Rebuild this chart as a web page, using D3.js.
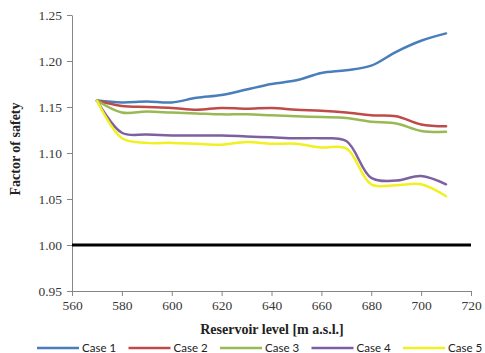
<!DOCTYPE html>
<html>
<head>
<meta charset="utf-8">
<script src="https://cdn.jsdelivr.net/npm/d3@7"></script>
<style>
  body { margin: 0; background: #fff; }
  svg { display: block; }
  .tick text { font-family: "Liberation Serif", serif; font-size: 13.5px; fill: #383838; }
  .axis path, .axis line { stroke: #868686; }
</style>
</head>
<body>
<div id="chart"></div>
<script>
// Reservoir levels (m a.s.l.)
const levels = [570, 580, 590, 600, 610, 620, 630, 640, 650, 660, 670, 680, 690, 700, 710];

// Factor of safety per case
const case1 = [1.157, 1.155, 1.156, 1.155, 1.160, 1.163, 1.169, 1.175, 1.179, 1.187, 1.190, 1.195, 1.210, 1.222, 1.230];
const case2 = [1.157, 1.151, 1.150, 1.149, 1.147, 1.149, 1.148, 1.149, 1.147, 1.146, 1.144, 1.141, 1.140, 1.131, 1.129];
const case3 = [1.157, 1.144, 1.145, 1.144, 1.143, 1.142, 1.142, 1.141, 1.140, 1.139, 1.138, 1.134, 1.132, 1.124, 1.123];
const case4 = [1.157, 1.122, 1.120, 1.119, 1.119, 1.119, 1.118, 1.117, 1.116, 1.116, 1.113, 1.073, 1.070, 1.075, 1.066];
const case5 = [1.157, 1.116, 1.111, 1.111, 1.110, 1.109, 1.112, 1.110, 1.110, 1.106, 1.105, 1.066, 1.065, 1.066, 1.053];

const caseNames = ['Case 1', 'Case 2', 'Case 3', 'Case 4', 'Case 5'];
const colors = ['#4a7ebb', '#be4b48', '#98b954', '#7d60a0', '#f0f023'];

const xTicks = [560, 580, 600, 620, 640, 660, 680, 700, 720];
const yTicks = [0.95, 1.00, 1.05, 1.10, 1.15, 1.20, 1.25];
const limitValue = 1.0;

const W = 485, H = 353;
const margin = { top: 15, right: 14, bottom: 62, left: 72 };

const svg = d3.select('#chart').append('svg')
  .attr('width', W)
  .attr('height', H);

const x = d3.scaleLinear().domain([560, 720]).range([margin.left, W - margin.right]);
const y = d3.scaleLinear().domain([0.95, 1.25]).range([H - margin.bottom, margin.top]);

// Axes
svg.append('g')
  .attr('class', 'axis')
  .attr('transform', 'translate(0,' + (H - margin.bottom) + ')')
  .call(d3.axisBottom(x).tickValues(xTicks).tickSize(5).tickSizeOuter(0).tickPadding(4).tickFormat(d3.format('d')));

svg.append('g')
  .attr('class', 'axis')
  .attr('transform', 'translate(' + margin.left + ',0)')
  .call(d3.axisLeft(y).tickValues(yTicks).tickSize(5).tickSizeOuter(0).tickPadding(5).tickFormat(d3.format('.2f')));

// Limit line at FS = 1.0
svg.append('line')
  .attr('x1', x(560)).attr('x2', x(720))
  .attr('y1', y(limitValue)).attr('y2', y(limitValue))
  .attr('stroke', '#000').attr('stroke-width', 3);

// Curves
const series = [case1, case2, case3, case4, case5];
const line = d3.line()
  .x((d, i) => x(levels[i]))
  .y(d => y(d))
  .curve(d3.curveCatmullRom.alpha(0.5));

svg.append('g')
  .selectAll('path')
  .data(series)
  .join('path')
  .attr('d', d => line(d))
  .attr('fill', 'none')
  .attr('stroke', (d, i) => colors[i])
  .attr('stroke-width', 2.5)
  .attr('stroke-linejoin', 'round')
  .attr('stroke-linecap', 'round');

// Axis titles
svg.append('text')
  .attr('transform', 'translate(20,' + ((margin.top + H - margin.bottom) / 2 - 4) + ') rotate(-90)')
  .attr('text-anchor', 'middle')
  .style('font-family', '"Liberation Serif", serif')
  .style('font-weight', 'bold')
  .style('font-size', '14px')
  .attr('fill', '#222')
  .text('Factor of safety');

svg.append('text')
  .attr('x', 272)
  .attr('y', 334)
  .attr('text-anchor', 'middle')
  .style('font-family', '"Liberation Serif", serif')
  .style('font-weight', 'bold')
  .style('font-size', '14px')
  .attr('fill', '#222')
  .text('Reservoir level [m a.s.l.]');

// Legend
const legend = svg.append('g')
  .selectAll('g')
  .data(caseNames)
  .join('g')
  .attr('transform', (d, i) => 'translate(' + (37 + i * 91.5) + ',348)');

legend.append('line')
  .attr('x1', 0).attr('x2', 42)
  .attr('stroke', (d, i) => colors[i])
  .attr('stroke-width', 2.5);

legend.append('text')
  .attr('x', 45)
  .attr('y', 3.5)
  .style('font-family', 'Lato, sans-serif')
  .style('font-size', '11.5px')
  .attr('fill', '#222')
  .text(d => d);
</script>
</body>
</html>
